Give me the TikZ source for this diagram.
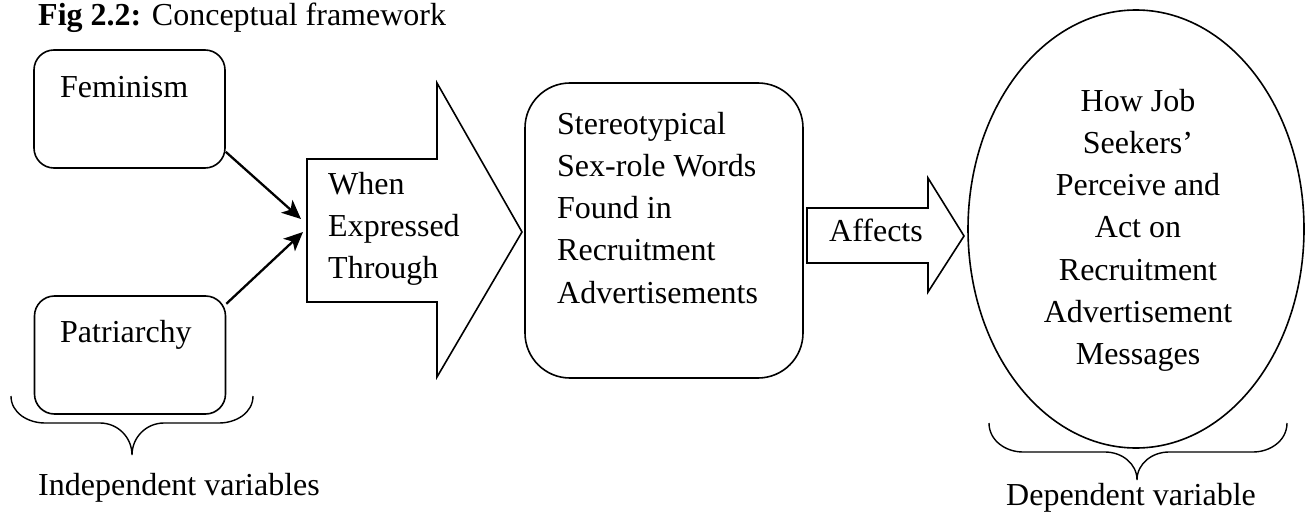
\documentclass[tikz,border=0pt]{standalone}
\usepackage{fontspec}
\setmainfont{Liberation Serif}
\usetikzlibrary{arrows.meta,shapes.geometric}
\tikzset{
  txt/.style={inner sep=0pt, font=\fontsize{32}{42.3}\selectfont},
  shp/.style={draw=black, line width=1.6pt},
  rbox/.style={shp, rounded corners=20pt, inner sep=0pt, minimum width=191pt, minimum height=118pt},
  conn/.style={line width=2.3pt, -{Stealth[length=19pt,width=17pt,inset=5pt]}},
  brace/.style={draw=black, line width=1.4pt},
}
\newcommand{\lines}[2]{\parbox[t]{#1}{\fontsize{32}{42.3}\selectfont #2}}
\begin{document}
\begin{tikzpicture}[x=1pt,y=-1pt]
\useasboundingbox (0,0) rectangle (1306,519);
% title
\node[txt, anchor=base west] (title) at (38,26) {\textbf{Fig 2.2:} Conceptual framework};
% independent variable boxes
\node[rbox] (fem) at (129.5,109) {};
\node[txt, anchor=base west] (femt) at (60,97) {Feminism};
\node[rbox] (pat) at (130,355) {};
\node[txt, anchor=base west] (patt) at (60,342) {Patriarchy};
% big block arrow
\draw[shp, line join=miter] (307,159) coordinate (ba) -- (437,159) -- (437,83) -- (522,232) coordinate (batip) -- (437,377) -- (437,302) -- (307,302) -- cycle;
\coordinate (in1) at (301,219);
\coordinate (in2) at (303,232);
\node[txt, anchor=base west] (bat) at (328,194) {\lines{150pt}{\raggedright When\\Expressed\\Through}};
% connectors
\draw[conn] (fem.-24) -- (in1);
\draw[conn] (pat.28) -- (in2);
% stereotypical box
\node[shp, rounded corners=45pt, inner sep=0pt, minimum width=278pt, minimum height=295pt] (st) at (664,230.5) {};
\node[txt, anchor=base west] (stt) at (557,134) {\lines{240pt}{\raggedright Stereotypical\\Sex-role Words\\Found in\\Recruitment\\Advertisements}};
% affects arrow
\draw[shp, line join=miter] (807,208) -- (928,208) -- (928,178) -- (964,236) coordinate (aftip) -- (928,292) -- (928,263) -- (807,263) -- cycle;
\node[txt, anchor=base west] (aft) at (829,241) {Affects};
% ellipse
\node[shp, ellipse, inner sep=0pt, minimum width=336pt, minimum height=438pt] (dep) at (1136,229) {};
\node[txt, anchor=base] (dept) at (1138,111) {\lines{300pt}{\centering How Job\\Seekers'\\Perceive and\\Act on\\Recruitment\\Advertisement\\Messages}};
% braces
\draw[brace] (11,396) to[out=-90,in=180] (45,423) -- (100,423) to[out=0,in=90] (132,455) to[out=90,in=180] (164,423) -- (219,423) to[out=0,in=-90] (253,396);
\draw[brace] (989,423) to[out=-90,in=180] (1023,452) -- (1105,452) to[out=0,in=90] (1137,480) to[out=90,in=180] (1169,452) -- (1253,452) to[out=0,in=-90] (1287,423);
\node[txt, anchor=base west] (indt) at (38,495) {Independent variables};
\node[txt, anchor=base west] (dept2) at (1006,505) {Dependent variable};
\end{tikzpicture}
\end{document}
